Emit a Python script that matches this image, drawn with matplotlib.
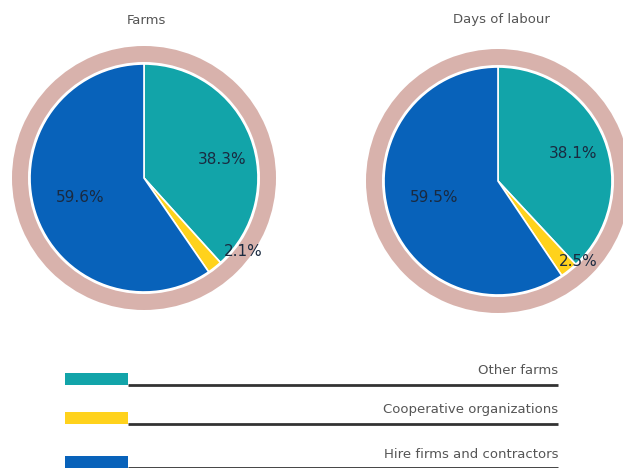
import matplotlib
matplotlib.use("Agg")
import matplotlib.pyplot as plt

# ---- data ----
categories = ["Other farms", "Cooperative organizations", "Hire firms and contractors"]
farms_values = [38.3, 2.1, 59.6]
farms_labels = ["38.3%", "2.1%", "59.6%"]
days_values = [38.1, 2.5, 59.5]
days_labels = ["38.1%", "2.5%", "59.5%"]
titles = ["Farms", "Days of labour"]

colors = ["#12A4A9", "#FFD21C", "#0862BA"]
ring_color = "#D8B2AC"
text_gray = "#555555"

plt.rcParams['font.family'] = ['DejaVu Sans']

W, H = 623, 468
fig = plt.figure(figsize=(W / 100, H / 100), dpi=100)
ax = fig.add_axes([0, 0, 1, 1])

def Y(y):
    return H - y

pies = [
    dict(vals=farms_values, labels=farms_labels, cx=144, cy=178,
         lpos=[(222, 160), (243, 251), (80, 198)], title=titles[0], tx=146, ty=20),
    dict(vals=days_values, labels=days_labels, cx=498, cy=181,
         lpos=[(573, 154), (578, 262), (434, 197)], title=titles[1], tx=501, ty=20),
]

for p in pies:
    # outer ring
    ax.pie([1], colors=[ring_color], radius=132, center=(p['cx'], Y(p['cy'])),
           wedgeprops=dict(width=16, edgecolor='none'), frame=True)
    ax.pie(p['vals'], colors=colors, radius=114, center=(p['cx'], Y(p['cy'])),
           startangle=90, counterclock=False,
           wedgeprops=dict(edgecolor='white', linewidth=1.2), frame=True)
    for lab, (lx, ly) in zip(p['labels'], p['lpos']):
        ax.text(lx, Y(ly), lab, ha='center', va='center', fontsize=11,
                color='#1a2a40')
    ax.text(p['tx'], Y(p['ty']), p['title'], ha='center', va='center',
            fontsize=9.5, color=text_gray)

ax.set_xlim(0, W)
ax.set_ylim(0, H)
ax.set_aspect('equal')
ax.axis('off')

# ---- legend ----
rows_y = [379, 418, 462]
for cat, col, ry in zip(categories, colors, rows_y):
    ax.add_patch(plt.Rectangle((65, Y(ry + 6)), 63, 12, facecolor=col,
                               edgecolor='none'))
    ax.plot([128, 558], [Y(ry + 6), Y(ry + 6)], color='#333333', lw=2,
            solid_capstyle='butt')
    ax.text(558, Y(ry - 8), cat, ha='right', va='center', fontsize=9.5,
            color=text_gray)

fig.savefig("out.png", dpi=100)
